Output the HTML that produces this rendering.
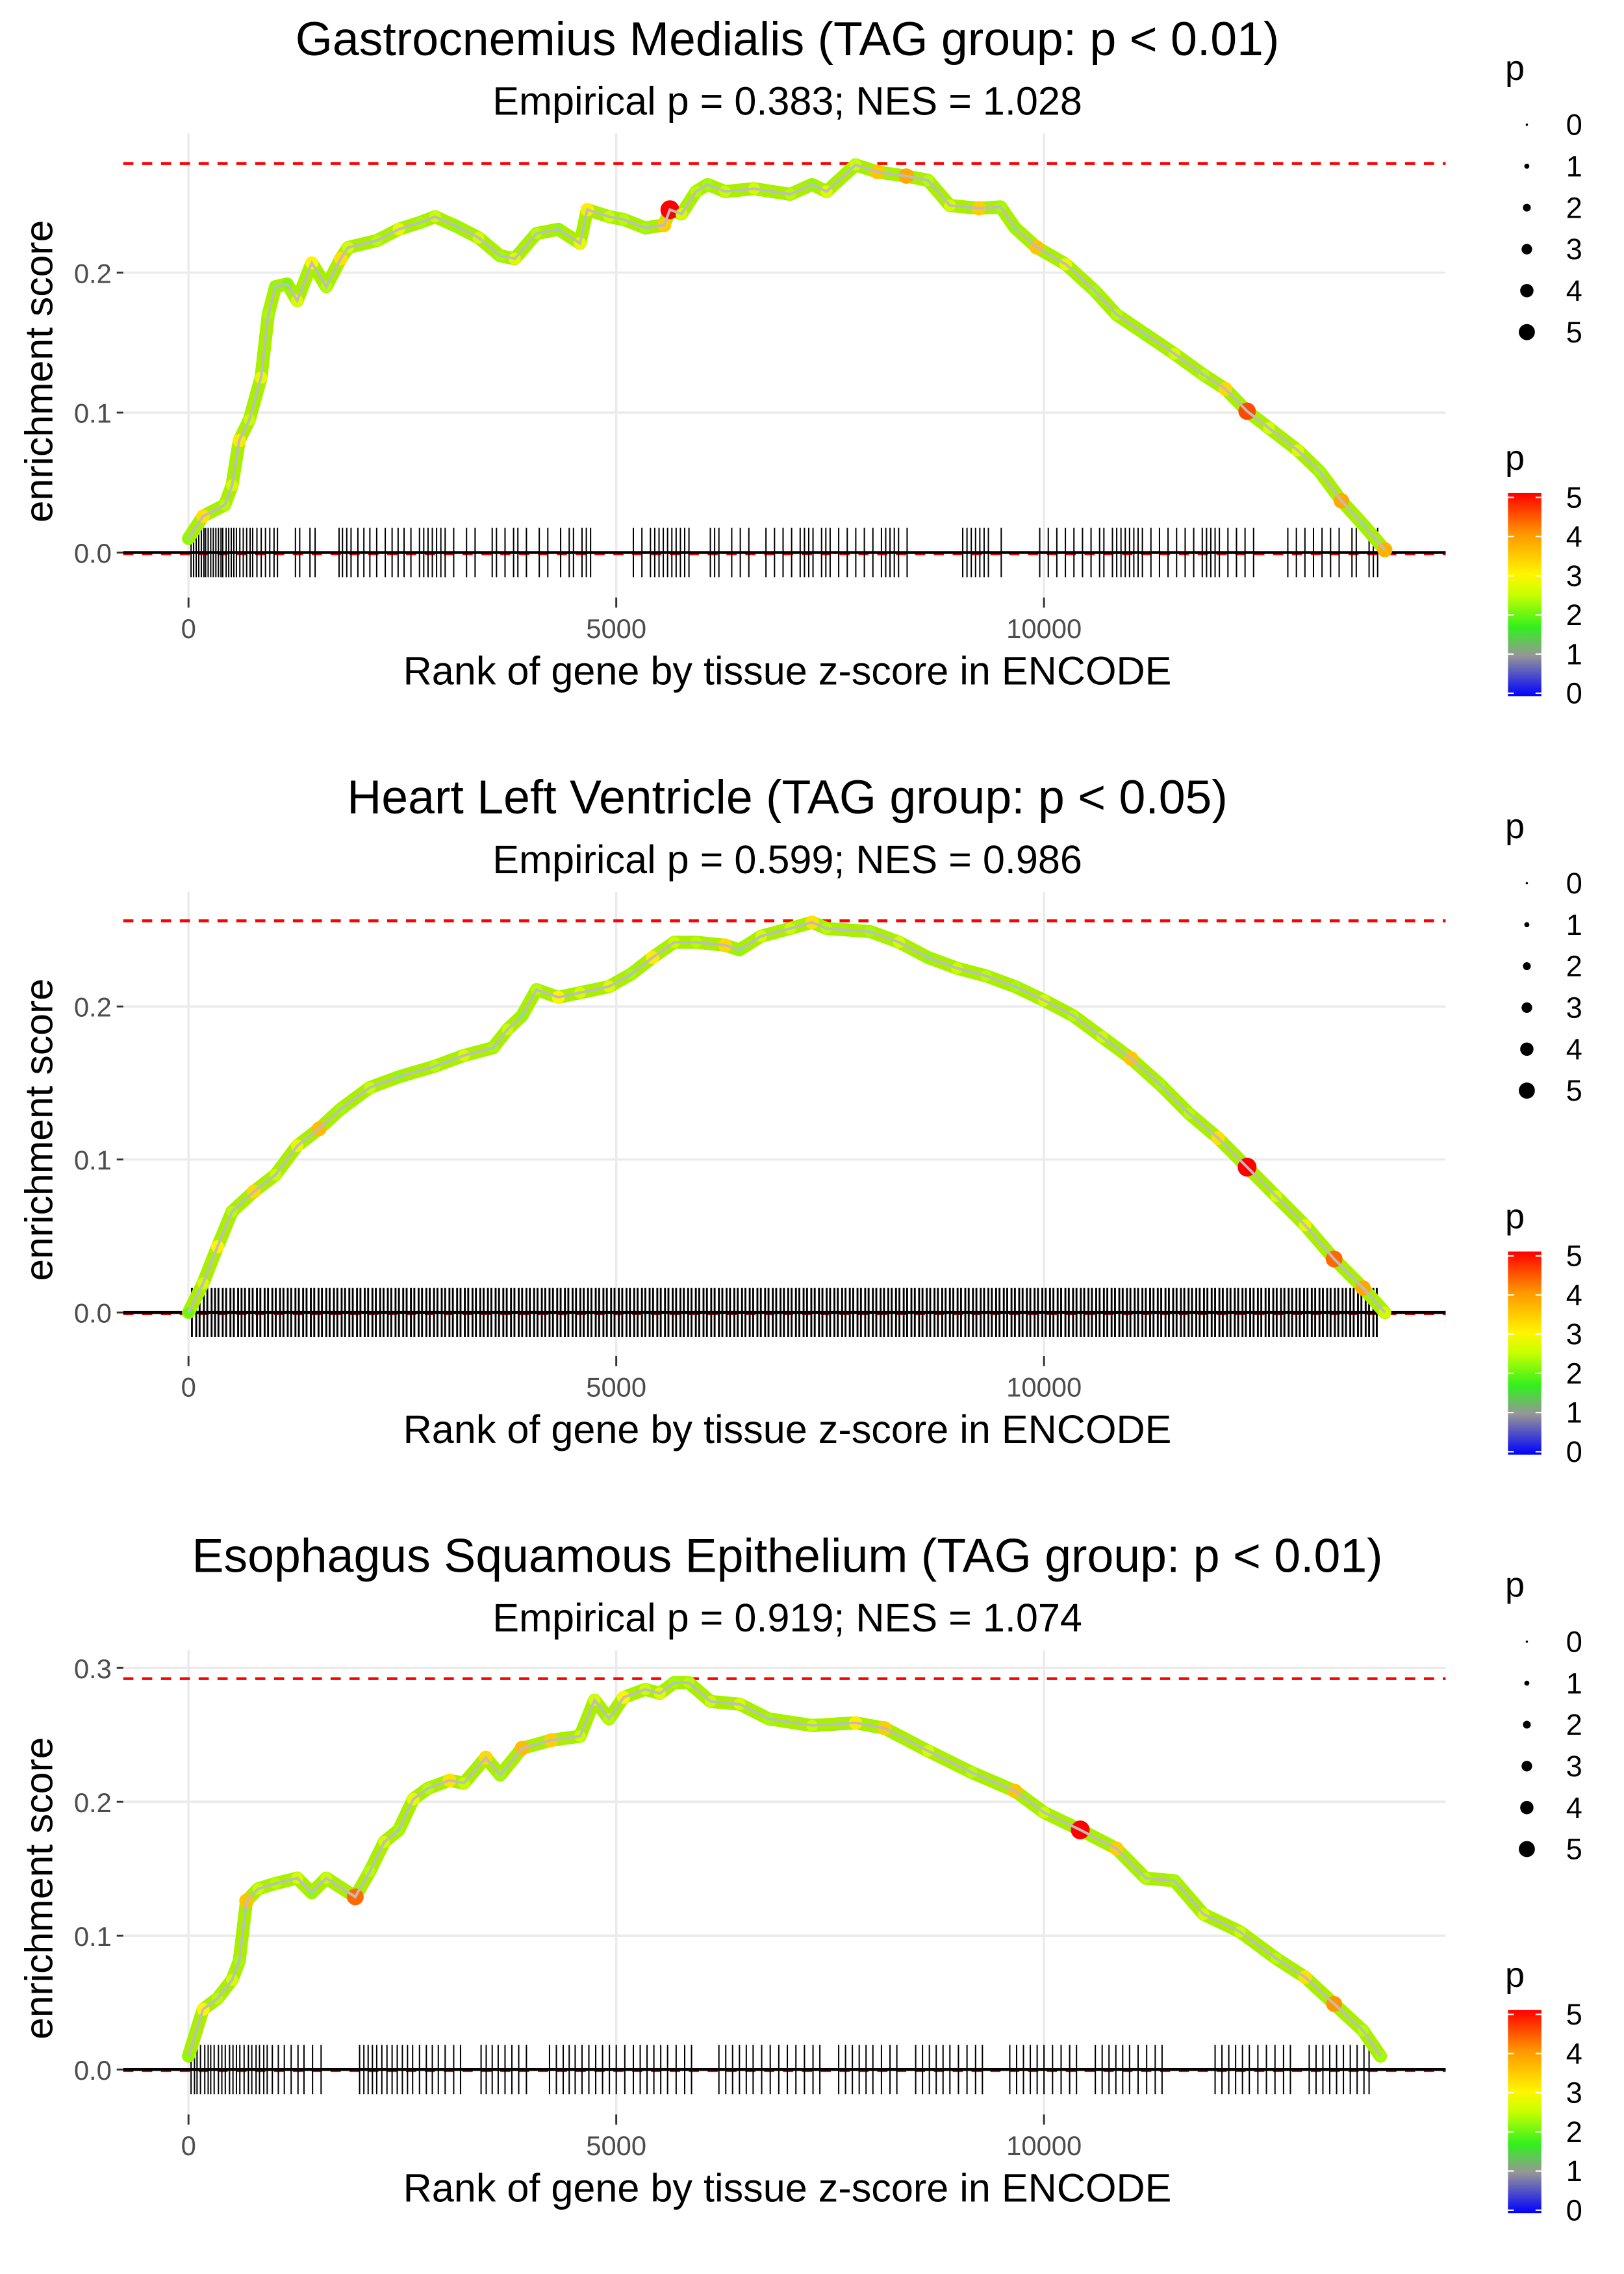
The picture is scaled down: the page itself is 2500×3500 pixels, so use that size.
<!DOCTYPE html>
<html><head><meta charset="utf-8"><style>
html,body{margin:0;padding:0;background:#fff}
svg{display:block;font-family:"Liberation Sans",sans-serif}
</style></head><body>
<svg id="chart" width="2500" height="3500" viewBox="0 0 1120 1568" xmlns="http://www.w3.org/2000/svg"></svg>
<script>
// ---------- data ----------
const titles = ["Gastrocnemius Medialis (TAG group: p < 0.01)","Heart Left Ventricle (TAG group: p < 0.05)","Esophagus Squamous Epithelium (TAG group: p < 0.01)"];
const subtitles = ["Empirical p = 0.383; NES = 1.028","Empirical p = 0.599; NES = 0.986","Empirical p = 0.919; NES = 1.074"];
const maxES = [0.278, 0.256, 0.292];
const xTicks = [0, 5000, 10000];
const yTicks1 = [0.0, 0.1, 0.2];
const yTicks2 = [0.0, 0.1, 0.2];
const yTicks3 = [0.0, 0.1, 0.2, 0.3];
const legendSizes = [0,1,2,3,4,5];

const p1Rank = [0,170,424,509,593,712,848,932,1017,1153,1271,1441,1610,1780,1865,2204,2458,2712,2882,3136,3390,3644,3814,4068,4322,4577,4661,4916,5085,5339,5560,5627,5763,5933,6068,6272,6611,7034,7289,7458,7797,8051,8390,8645,8899,9238,9492,9662,9916,10255,10594,10848,11187,11526,11865,12119,12374,12628,12967,13221,13476,13730,13984];
const p1ES = [0.010,0.026,0.034,0.048,0.080,0.095,0.125,0.170,0.190,0.192,0.180,0.207,0.190,0.210,0.218,0.223,0.231,0.236,0.240,0.233,0.225,0.212,0.210,0.228,0.231,0.221,0.245,0.240,0.238,0.232,0.234,0.245,0.242,0.258,0.263,0.258,0.260,0.256,0.263,0.258,0.277,0.272,0.269,0.266,0.248,0.246,0.247,0.232,0.218,0.206,0.187,0.170,0.156,0.142,0.127,0.117,0.101,0.089,0.073,0.058,0.037,0.020,0.002];
const p1P = [2.2,3.2,2.4,2.6,3.1,2.5,2.8,2.3,2.2,2.1,2.7,3.0,2.4,3.2,2.6,2.4,2.8,2.3,2.5,2.2,2.6,2.3,2.7,2.4,2.2,2.8,3.1,2.5,2.4,2.3,3.4,5.0,2.6,2.4,2.3,2.5,2.6,2.4,2.2,2.7,2.5,3.5,3.8,2.4,2.6,3.4,2.3,2.2,3.5,2.8,2.3,2.4,2.2,2.6,2.4,3.3,4.5,2.6,2.7,2.3,3.8,2.2,3.7];
const p1Rug = [30,60,90,120,150,180,200,230,260,290,320,350,380,400,440,470,500,530,560,600,640,680,720,750,800,850,900,950,1000,1040,1250,1300,1420,1480,1760,1800,1850,1900,1980,2050,2120,2200,2300,2380,2450,2520,2600,2700,2750,2800,2850,2900,2950,3000,3100,3250,3350,3550,3600,3700,3800,3850,3950,4100,4200,4350,4450,4500,4600,4650,4700,5200,5300,5400,5450,5500,5550,5600,5650,5700,5750,5800,5850,6100,6150,6200,6350,6450,6550,6750,6850,6950,7050,7150,7200,7250,7300,7400,7450,7500,7600,7700,7800,7900,8000,8100,8150,8200,8250,8300,8400,9050,9100,9150,9200,9250,9300,9350,9500,9950,10050,10150,10250,10350,10450,10550,10650,10700,10800,10850,10900,10950,11000,11050,11100,11150,11250,11350,11450,11550,11650,11750,11850,11900,11950,12000,12050,12150,12250,12350,12450,12850,12950,13050,13150,13250,13350,13450,13600,13650,13800,13850,13900];

const p2Rank = [0,170,339,509,763,1017,1271,1526,1780,2119,2458,2882,3221,3560,3729,3899,4068,4322,4577,4916,5170,5424,5678,5933,6272,6441,6695,7034,7289,7458,7967,8306,8645,8984,9323,9662,10001,10340,10679,11018,11357,11696,12035,12374,12713,13052,13391,13730,13984];
const p2ES = [0.000,0.019,0.043,0.066,0.079,0.090,0.109,0.120,0.133,0.147,0.154,0.161,0.168,0.173,0.185,0.194,0.211,0.206,0.209,0.213,0.221,0.232,0.242,0.242,0.240,0.237,0.246,0.251,0.255,0.251,0.249,0.242,0.232,0.225,0.220,0.213,0.204,0.194,0.180,0.166,0.149,0.130,0.114,0.095,0.076,0.057,0.035,0.016,0.000];
const p2P = [2.0,2.6,3.0,2.4,3.3,2.5,2.8,3.6,2.3,2.5,2.2,2.4,2.6,2.3,2.5,2.2,2.4,3.0,2.6,2.7,2.3,3.1,2.5,2.4,3.3,2.2,2.6,2.5,3.2,2.4,2.3,2.6,2.2,2.5,2.4,2.3,2.6,2.4,2.5,3.5,2.3,2.4,3.2,5.0,2.6,2.8,4.3,3.8,2.6];
const p2Rug = [40,90,130,180,220,270,310,350,400,440,490,530,580,620,660,710,750,800,840,890,930,980,1020,1070,1110,1160,1200,1250,1290,1340,1380,1430,1470,1520,1560,1610,1650,1700,1740,1790,1830,1880,1920,1970,2010,2060,2100,2150,2190,2240,2280,2330,2370,2420,2460,2510,2550,2600,2640,2690,2730,2780,2820,2870,2910,2960,3000,3050,3090,3140,3180,3230,3270,3320,3360,3410,3450,3500,3540,3590,3630,3680,3720,3770,3810,3860,3900,3950,3990,4040,4080,4130,4170,4220,4260,4310,4350,4400,4440,4490,4530,4580,4620,4670,4710,4760,4800,4850,4890,4940,4980,5030,5070,5120,5160,5210,5250,5300,5340,5390,5430,5480,5520,5570,5610,5660,5700,5750,5790,5840,5880,5930,5970,6020,6060,6110,6150,6200,6240,6290,6330,6380,6420,6470,6510,6560,6600,6650,6690,6740,6780,6830,6870,6920,6960,7010,7050,7100,7140,7190,7230,7280,7320,7370,7410,7460,7500,7550,7590,7640,7680,7730,7770,7820,7860,7910,7950,8000,8040,8090,8130,8180,8220,8270,8310,8360,8400,8450,8490,8540,8580,8630,8670,8720,8760,8810,8850,8900,8940,8990,9030,9080,9120,9170,9210,9260,9300,9350,9390,9440,9480,9530,9570,9620,9660,9710,9750,9800,9840,9890,9930,9980,10020,10070,10110,10160,10200,10250,10290,10340,10380,10430,10470,10520,10560,10610,10650,10700,10740,10790,10830,10880,10920,10970,11010,11060,11100,11150,11190,11240,11280,11330,11370,11420,11460,11510,11550,11600,11640,11690,11730,11780,11820,11870,11910,11960,12000,12050,12090,12140,12180,12230,12270,12320,12360,12410,12450,12500,12540,12590,12630,12680,12720,12770,12810,12860,12900,12950,12990,13040,13080,13130,13170,13220,13260,13310,13350,13400,13440,13490,13530,13580,13620,13670,13710,13760,13800,13850,13890];

const p3Rank = [0,170,339,509,593,678,814,1017,1271,1441,1610,1949,2119,2288,2458,2627,2797,3051,3221,3475,3644,3899,4238,4577,4746,4916,5085,5339,5509,5678,5848,6102,6441,6780,7289,7797,8136,8645,9153,9662,10001,10424,10848,11187,11526,11865,12289,12713,13052,13391,13730,13933];
const p3ES = [0.010,0.045,0.053,0.067,0.081,0.126,0.135,0.139,0.143,0.132,0.143,0.129,0.148,0.170,0.179,0.202,0.210,0.216,0.214,0.233,0.220,0.240,0.246,0.249,0.276,0.262,0.278,0.284,0.281,0.289,0.289,0.275,0.273,0.262,0.257,0.259,0.255,0.238,0.222,0.208,0.192,0.179,0.165,0.143,0.141,0.116,0.103,0.083,0.069,0.049,0.029,0.010];
const p3P = [2.2,3.0,2.4,2.6,2.3,3.5,2.5,2.4,2.6,2.2,2.5,4.3,2.4,2.6,2.3,2.8,2.4,3.2,2.5,3.3,2.3,3.6,3.4,2.5,2.6,2.4,3.0,2.5,2.7,2.3,2.4,2.5,2.6,2.3,2.5,3.1,3.4,2.6,2.4,3.5,2.5,5.0,3.4,2.4,2.3,2.6,2.5,2.4,3.2,4.0,2.4,2.3];
const p3Rug = [30,70,100,140,190,230,260,300,350,390,430,480,520,560,600,650,700,740,790,830,880,920,980,1050,1120,1200,1280,1350,1450,1550,2000,2050,2100,2150,2200,2260,2320,2380,2440,2500,2560,2620,2700,2780,2850,2920,3000,3100,3180,3420,3480,3550,3620,3700,3780,3860,3950,4220,4300,4380,4450,4520,4600,4680,4760,4840,4920,5000,5100,5200,5280,5360,5440,5520,5600,5700,5800,5880,6200,6280,6360,6440,6520,6600,6700,6800,6900,7000,7100,7200,7300,7380,7600,7680,7760,7840,7920,8000,8100,8200,8280,8500,8580,8660,8740,8820,8900,9000,9100,9200,9280,9600,9680,9760,9840,9920,10000,10100,10200,10300,10380,10600,10680,10760,10840,10920,11000,11100,11200,11300,11380,12000,12080,12160,12240,12320,12400,12500,12600,12700,12800,12880,13100,13180,13260,13340,13420,13500,13580,13660,13740,13800];

const panels = [
 {off:0, rank:p1Rank, es:p1ES, p:p1P, rug:p1Rug, yTicks:yTicks1, y0:381, perUnit:965, rugW:0.9},
 {off:523, rank:p2Rank, es:p2ES, p:p2P, rug:p2Rug, yTicks:yTicks2, y0:905, perUnit:1055, rugW:1.3},
 {off:1046, rank:p3Rank, es:p3ES, p:p3P, rug:p3Rug, yTicks:yTicks3, y0:1427, perUnit:923, rugW:0.9}
];

// ---------- helpers ----------
const NS = "http://www.w3.org/2000/svg";
const svg = document.getElementById("chart");
function mk(tag, attrs, parent){
  const e = document.createElementNS(NS, tag);
  for (const k in attrs) e.setAttribute(k, attrs[k]);
  (parent||svg).appendChild(e);
  return e;
}
const stops = [[0,[0,0,255]],[1,[150,150,150]],[1.7,[50,240,30]],[2.5,[200,255,0]],[3,[255,245,0]],[4,[255,150,0]],[5,[255,0,0]]];
function pColor(p){
  for (let i=1;i<stops.length;i++){
    if (p<=stops[i][0]){
      const a=stops[i-1], b=stops[i], t=(p-a[0])/(b[0]-a[0]);
      const c=a[1].map((v,j)=>Math.round(v+(b[1][j]-v)*t));
      return `rgb(${c[0]},${c[1]},${c[2]})`;
    }
  }
  return "rgb(255,0,0)";
}
const xScale = r => 130 + r*295/5000;
const pRadius = p => 1.5 + p*1.0;

panels.forEach((P, idx) => {
  const g = mk("g", {});
  
  
  const yS = v => P.y0 - v*P.perUnit;
  const o = P.off;
  P.yTicks.forEach(t => {
    const l = mk("line", {x1:85, x2:997, y1:yS(t), y2:yS(t), stroke:"#ebebeb", "stroke-width":1.6}, g);
    
    
    const tk = mk("line", {x1:80.5, x2:85, y1:yS(t), y2:yS(t), stroke:"#333", "stroke-width":1.3}, g);
    
    
  });
  xTicks.forEach(t => {
    const l = mk("line", {x1:xScale(t), x2:xScale(t), y1:o+92, y2:o+412, stroke:"#ebebeb", "stroke-width":1.6}, g);
    
    
    const tk = mk("line", {x1:xScale(t), x2:xScale(t), y1:o+412, y2:o+419, stroke:"#333", "stroke-width":1.3}, g);
    
    
  });
  const tt = mk("text", {x:543, y:o+38, "text-anchor":"middle", "font-size":32.9, fill:"#000"}, g);
  tt.textContent = titles[idx];
  
  
  const st = mk("text", {x:543, y:o+79, "text-anchor":"middle", "font-size":27.4, fill:"#000"}, g);
  st.textContent = subtitles[idx];
  
  
  P.yTicks.forEach(t => {
    const tx = mk("text", {x:77, y:yS(t)+7, "text-anchor":"end", "font-size":18.7, fill:"#4d4d4d"}, g);
    tx.textContent = t.toFixed(1);
    
    
  });
  xTicks.forEach(t => {
    const tx = mk("text", {x:xScale(t), y:o+440, "text-anchor":"middle", "font-size":18.7, fill:"#4d4d4d"}, g);
    tx.textContent = t;
    
    
  });
  const yt = mk("text", {x:0, y:0, transform:`translate(36,${o+256}) rotate(-90)`, "text-anchor":"middle", "font-size":27.2, fill:"#000"}, g);
  yt.textContent = "enrichment score";
  
  
  const xt = mk("text", {x:543, y:o+472, "text-anchor":"middle", "font-size":27.4, fill:"#000"}, g);
  xt.textContent = "Rank of gene by tissue z-score in ENCODE";
  
  
  const d1 = mk("line", {x1:85, x2:997, y1:yS(maxES[idx]), y2:yS(maxES[idx]), stroke:"#ff0000", "stroke-width":2, "stroke-dasharray":"7,6"}, g);
  
  
  const d0 = mk("line", {x1:85, x2:997, y1:yS(0)+1, y2:yS(0)+1, stroke:"#ff0000", "stroke-width":1.5, "stroke-dasharray":"7,6"}, g);
  
  
  P.rug.forEach(r => {
    const l = mk("line", {x1:xScale(r), x2:xScale(r), y1:yS(0)-17, y2:yS(0)+17, stroke:"#000", "stroke-width":P.rugW}, g);
    
    
  });
  const zl = mk("line", {x1:85, x2:997, y1:yS(0), y2:yS(0), stroke:"#000", "stroke-width":2}, g);
  
  
  const pts = P.rank.map((r,i)=>xScale(r)+","+yS(P.es[i])).join(" ");
  const under = mk("polyline", {points:P.rank.map((r,i)=>xScale(r)+","+(yS(P.es[i])+3)).join(" "), fill:"none", stroke:"#7a7adf", "stroke-width":3, "stroke-linejoin":"round"}, g);
  
  
  const band = mk("polyline", {points:pts, fill:"none", stroke:"#a8f000", "stroke-width":9, "stroke-linejoin":"round", "stroke-linecap":"round"}, g);
  
  
  P.rank.forEach((r,i) => {
    const c = mk("circle", {cx:xScale(r), cy:yS(P.es[i]), r:pRadius(P.p[i]), fill:pColor(P.p[i])}, g);
    
    
  });
  const line = mk("polyline", {points:pts, fill:"none", stroke:"#bdbdbd", "stroke-width":1.8}, g);
  
  
  const lp = mk("text", {x:1038, y:o+55, "font-size":24.2, fill:"#000"}, g);
  lp.textContent = "p";
  
  
  legendSizes.forEach((s,i) => {
    const cy = o + 86 + i*28.6;
    const c = mk("circle", {cx:1053, cy:cy, r:0.8+s*0.95, fill:"#000"}, g);
    
    
    const t = mk("text", {x:1080, y:cy+7, "font-size":20.2, fill:"#000"}, g);
    t.textContent = s;
    
    
  });
  const cp = mk("text", {x:1038, y:o+324, "font-size":24.2, fill:"#000"}, g);
  cp.textContent = "p";
  
  
  const gid = "grad"+idx;
  const defs = mk("defs", {}, g);
  const lg = mk("linearGradient", {id:gid, x1:0, y1:1, x2:0, y2:0}, defs);
  stops.forEach(s => mk("stop", {offset:(s[0]/5), "stop-color":pColor(s[0])}, lg));
  const bar = mk("rect", {x:1040, y:o+340, width:23, height:140, fill:`url(#${gid})`}, g);
  
  
  legendSizes.forEach(s => {
    const y = o + 478 - s*27;
    mk("line", {x1:1040, x2:1044, y1:y, y2:y, stroke:"#fff", "stroke-width":1}, g);
    mk("line", {x1:1059, x2:1063, y1:y, y2:y, stroke:"#fff", "stroke-width":1}, g);
    const t = mk("text", {x:1080, y:y+7, "font-size":20.2, fill:"#000"}, g);
    t.textContent = s;
    
    
  });
});
</script>
</body></html>
